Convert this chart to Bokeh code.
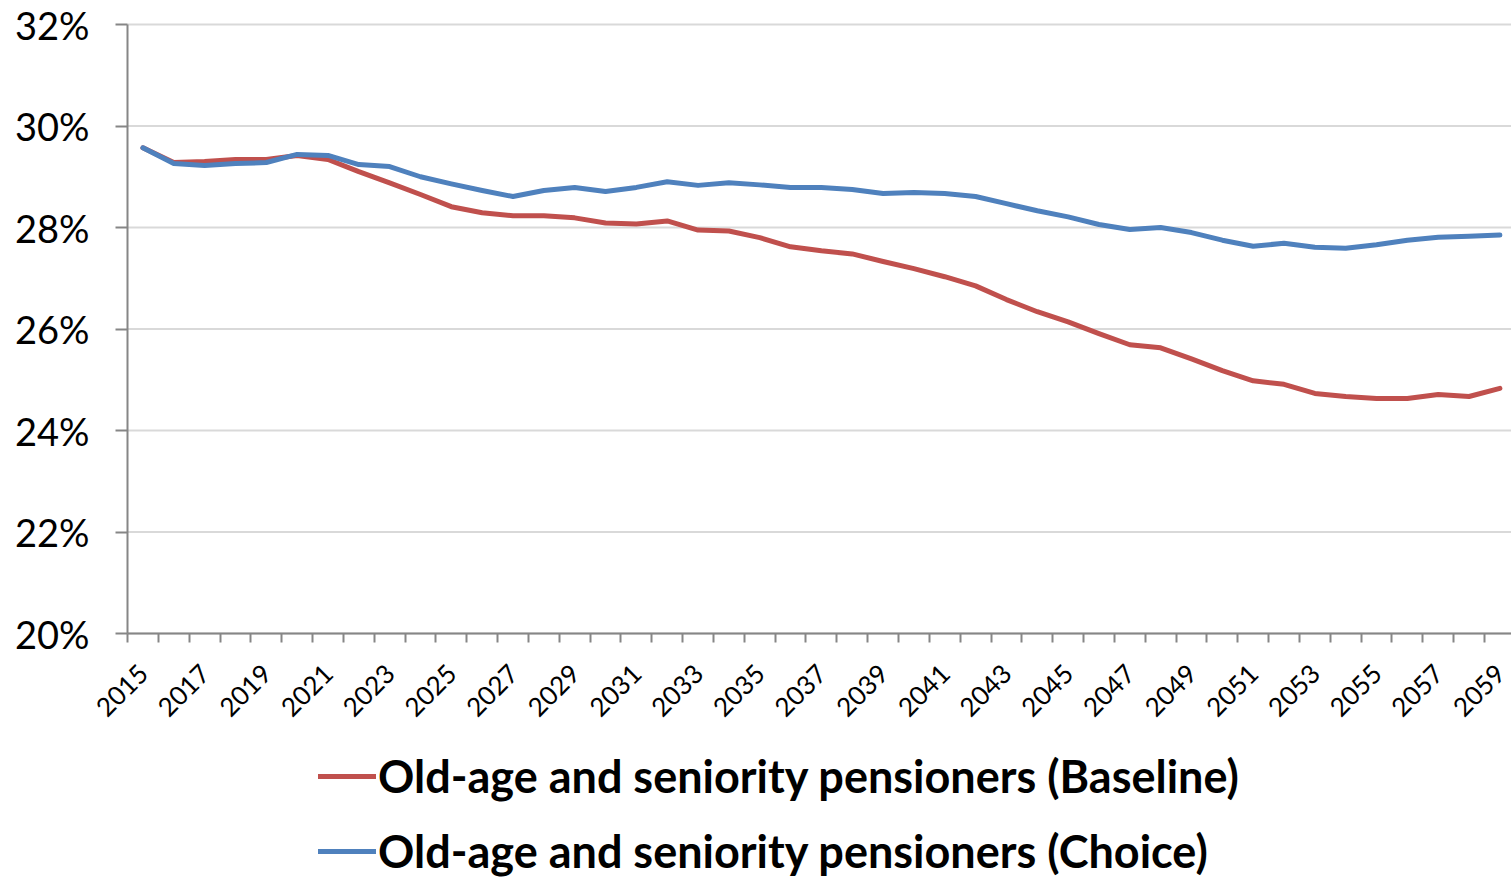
import math
from bokeh.plotting import figure
from bokeh.models import (ColumnDataSource, FixedTicker, PrintfTickFormatter,
                          Legend, LegendItem, Range1d)
from bokeh.embed import file_html
from bokeh.resources import INLINE

# Share of population (%) receiving old-age and seniority pensions, 2015-2059
years = list(range(2015, 2060))
baseline = [29.57, 29.28, 29.30, 29.34, 29.34, 29.42, 29.34, 29.10, 28.88, 28.65,
            28.41, 28.29, 28.23, 28.23, 28.19, 28.09, 28.07, 28.13, 27.95, 27.93,
            27.80, 27.62, 27.54, 27.48, 27.33, 27.19, 27.03, 26.85, 26.58, 26.34,
            26.14, 25.91, 25.69, 25.63, 25.41, 25.18, 24.98, 24.91, 24.73, 24.67,
            24.63, 24.63, 24.71, 24.67, 24.83]
choice = [29.57, 29.26, 29.22, 29.26, 29.28, 29.44, 29.42, 29.24, 29.20, 29.00,
          28.86, 28.73, 28.61, 28.73, 28.79, 28.71, 28.79, 28.90, 28.83, 28.88,
          28.84, 28.79, 28.79, 28.75, 28.67, 28.69, 28.67, 28.61, 28.47, 28.33,
          28.21, 28.06, 27.96, 28.00, 27.90, 27.75, 27.63, 27.69, 27.61, 27.59,
          27.66, 27.75, 27.81, 27.83, 27.85]
y_ticks = [20, 22, 24, 26, 28, 30, 32]
label_years = years[::2]
series_names = ["Old-age and seniority pensioners (Baseline)",
                "Old-age and seniority pensioners (Choice)"]

FONT = "Lato"
AXIS_GREY = "#868686"
GRID_GREY = "#D9D9D9"

# Canvas layout (px): the frame covers the whole canvas and the axes are
# pinned at the edges of the data area, so tick labels and the legend can
# live in the surrounding margin without being clipped.
W, H = 1511, 878
LEFT, TOP, BOTTOM = 127, 24, 633          # data area edges
STEP = 30.84                              # px per year
Y_MIN, Y_MAX = y_ticks[0], y_ticks[-1]
X_MIN, X_MAX = years[0] - 0.5, years[-1] + 0.5

px_per_pct = (BOTTOM - TOP) / (Y_MAX - Y_MIN)
y_lo = Y_MIN - (H - BOTTOM) / px_per_pct
y_hi = Y_MAX + TOP / px_per_pct
x_lo = X_MIN - LEFT / STEP
x_hi = x_lo + W / STEP

src = ColumnDataSource(dict(year=years, baseline=baseline, choice=choice))
grid_src = ColumnDataSource(dict(y=y_ticks, x0=[X_MIN] * len(y_ticks),
                                 x1=[X_MAX] * len(y_ticks)))

p = figure(frame_width=W, frame_height=H,
           min_border_left=0, min_border_top=0, min_border_right=0,
           min_border_bottom=0,
           x_range=Range1d(x_lo, x_hi), y_range=Range1d(y_lo, y_hi),
           output_backend="svg", toolbar_location=None)
p.outline_line_color = None
p.background_fill_color = "white"
p.border_fill_color = "white"
p.xgrid.visible = False
p.ygrid.visible = False

# horizontal gridlines limited to the data area
p.segment(x0="x0", x1="x1", y0="y", y1="y", source=grid_src,
          line_color=GRID_GREY, line_width=2)

r_base = p.line("year", "baseline", source=src, line_color="#C0504D",
                line_width=5, line_join="round", line_cap="round")
r_choice = p.line("year", "choice", source=src, line_color="#4F81BD",
                  line_width=5, line_join="round", line_cap="round")

# x axis: labels on every other year, tick marks on category boundaries
xa = p.xaxis[0]
xa.fixed_location = Y_MIN
xa.bounds = (X_MIN, X_MAX)
xa.ticker = FixedTicker(ticks=label_years,
                        minor_ticks=[y - 0.5 for y in years] + [X_MAX])
xa.major_tick_out = 0
xa.major_tick_in = 0
xa.minor_tick_out = 9
xa.minor_tick_in = 0
xa.minor_tick_line_color = AXIS_GREY
xa.minor_tick_line_width = 2
xa.axis_line_color = AXIS_GREY
xa.axis_line_width = 2
xa.major_label_orientation = math.pi / 4
xa.major_label_text_font = FONT
xa.major_label_text_font_size = "26px"
xa.major_label_text_color = "black"
xa.major_label_standoff = 26

# y axis: percentages every 2 points
ya = p.yaxis[0]
ya.fixed_location = X_MIN
ya.bounds = (Y_MIN, Y_MAX)
ya.ticker = FixedTicker(ticks=y_ticks, minor_ticks=[])
ya.formatter = PrintfTickFormatter(format="%d%%")
ya.major_tick_out = 12
ya.major_tick_in = 0
ya.major_tick_line_color = AXIS_GREY
ya.major_tick_line_width = 2
ya.axis_line_color = AXIS_GREY
ya.axis_line_width = 2
ya.major_label_text_font = FONT
ya.major_label_text_font_size = "38px"
ya.major_label_text_color = "black"
ya.major_label_standoff = 26

legend = Legend(items=[LegendItem(label=series_names[0], renderers=[r_base]),
                       LegendItem(label=series_names[1], renderers=[r_choice])],
                location=(318, 0), orientation="vertical")
legend.border_line_color = None
legend.background_fill_alpha = 0
legend.padding = 0
legend.margin = 0
legend.spacing = 21
legend.glyph_width = 58
legend.glyph_height = 50
legend.label_height = 50
legend.label_standoff = 2
legend.label_text_font = FONT
legend.label_text_font_style = "bold"
legend.label_text_font_size = "45px"
legend.label_text_color = "black"
legend.label_text_baseline = "middle"
p.add_layout(legend, "center")

open("out.html", "w").write(file_html(p, INLINE))
